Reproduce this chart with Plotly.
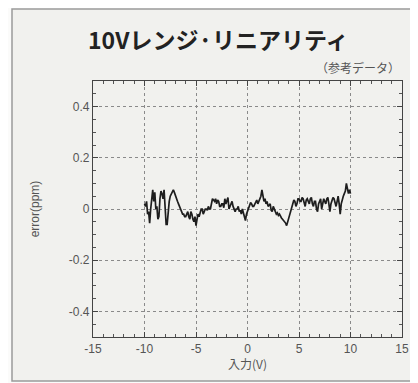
import plotly.graph_objects as go

x_volts = [round(-10 + 0.1 * i, 1) for i in range(201)]
error_ppm = [
    0.02, 0.01, 0.03, -0.02, -0.01, -0.055, 0.0, 0.05, 0.075, 0.03,
    0.065, 0.0, 0.01, -0.04, -0.03, 0.04, 0.07, 0.06, 0.04, 0.075,
    -0.01, -0.06, -0.06, 0.0, 0.03, 0.05, 0.06, 0.07, 0.075, 0.065,
    0.05, 0.04, 0.03, 0.02, 0.01, 0.0, -0.01, -0.02, -0.02, -0.03,
    -0.03, -0.02, -0.01, -0.03, -0.04, -0.01, -0.02, -0.04, -0.05, -0.03,
    -0.065, -0.04, -0.02, -0.03, -0.01, 0.0, 0.0, -0.02, -0.01, 0.0,
    0.0, -0.005, 0.01, 0.0, 0.0, 0.02, 0.04, 0.035, 0.03, 0.04,
    0.02, 0.035, 0.03, 0.01, 0.01, 0.02, 0.02, 0.005, 0.04, 0.02,
    0.03, 0.045, 0.0, 0.01, 0.02, 0.03, 0.01, 0.0, -0.01, 0.0,
    0.0, 0.01, -0.01, -0.005, -0.02, 0.0, -0.015, -0.02, -0.045, -0.02,
    -0.01, 0.0, 0.01, 0.025, 0.02, 0.01, 0.01, 0.02, 0.03, 0.035,
    0.02, 0.03, 0.04, 0.05, 0.075, 0.05, 0.03, 0.04, 0.02, 0.03,
    0.01, 0.015, 0.02, -0.005, -0.01, 0.01, 0.0, -0.01, -0.02, -0.015,
    -0.025, -0.02, -0.03, -0.035, -0.04, -0.045, -0.05, -0.055, -0.065, -0.05,
    -0.035, -0.02, -0.01, 0.01, 0.02, 0.035, 0.03, 0.01, 0.02, 0.04,
    0.04, 0.03, 0.03, 0.045, 0.04, 0.02, 0.01, 0.035, 0.04, 0.03,
    0.02, 0.04, 0.045, 0.02, 0.01, 0.03, 0.03, 0.0, -0.01, 0.02,
    0.035, 0.04, 0.0, 0.02, 0.04, 0.03, 0.02, 0.04, 0.045, 0.02,
    -0.01, 0.02, 0.03, 0.045, 0.04, 0.02, 0.01, 0.03, 0.05, 0.02,
    -0.02, 0.02, 0.04, 0.05, 0.06, 0.07, 0.1, 0.085, 0.06, 0.075,
    0.06,
]
x_ticks = [-15, -10, -5, 0, 5, 10, 15]
y_ticks = [-0.4, -0.2, 0, 0.2, 0.4]
y_tick_labels = ["-0.4", "-0.2", "0", "0.2", "0.4"]

title_text = "10Vレンジ·リニアリティ"
subtitle_text = "（参考データ）"
x_title = "入力(V)"
y_title = "error(ppm)"

fig = go.Figure()
fig.add_trace(go.Scatter(
    x=x_volts, y=error_ppm, mode="lines",
    line=dict(color="#1e1e1e", width=1.7),
    hoverinfo="skip",
))
# invisible trace to carry the mirrored (top/right) tick axes
fig.add_trace(go.Scatter(x=[x_ticks[0]], y=[y_ticks[0]], xaxis="x2", yaxis="y2",
                         mode="markers", marker=dict(opacity=0), hoverinfo="skip"))

tickfont = dict(family="Liberation Sans, Arial, sans-serif", size=12, color="#555555")

fig.update_layout(
    width=410, height=375,
    margin=dict(l=85, r=16, t=73, b=46),
    paper_bgcolor="#fbfbfa",
    plot_bgcolor="#f8f8f7",
    showlegend=False,
    xaxis=dict(
        range=[-15, 15], tickvals=x_ticks, ticktext=[str(v) for v in x_ticks],
        ticks="inside", ticklen=5, tickcolor="#444",
        showline=True, linecolor="#444", linewidth=1.2, mirror=True,
        showgrid=True, gridcolor="#8a8a8a", griddash="dot", gridwidth=1,
        zeroline=False, tickfont=tickfont, automargin=False,
        minor=dict(dtick=1, ticks="inside", ticklen=3, tickcolor="#555", showgrid=False),
        title=dict(text=x_title, font=dict(family="Noto Sans CJK JP", size=12, color="#555555"), standoff=2),
    ),
    yaxis=dict(
        range=[-0.5, 0.5], tickvals=y_ticks, ticktext=y_tick_labels,
        ticks="inside", ticklen=5, tickcolor="#444",
        showline=True, linecolor="#444", linewidth=1.2, mirror=True,
        showgrid=True, gridcolor="#8a8a8a", griddash="dot", gridwidth=1,
        zeroline=False, tickfont=tickfont, automargin=False,
        minor=dict(dtick=0.05, ticks="inside", ticklen=3, tickcolor="#555", showgrid=False),
        title=dict(text=y_title, font=dict(family="Liberation Sans, Arial, sans-serif", size=12, color="#555555"), standoff=26),
    ),
    xaxis2=dict(
        overlaying="x", side="top", range=[-15, 15], tickvals=x_ticks,
        showticklabels=False, ticks="inside", ticklen=5, tickcolor="#444",
        showgrid=False, zeroline=False, showline=False, automargin=False,
        minor=dict(dtick=1, ticks="inside", ticklen=3, tickcolor="#555", showgrid=False),
    ),
    yaxis2=dict(
        overlaying="y", side="right", range=[-0.5, 0.5], tickvals=y_ticks,
        showticklabels=False, ticks="inside", ticklen=5, tickcolor="#444",
        showgrid=False, zeroline=False, showline=False, automargin=False,
        minor=dict(dtick=0.05, ticks="inside", ticklen=3, tickcolor="#555", showgrid=False),
    ),
)

fig.add_shape(type="rect", xref="paper", yref="paper",
              x0=-81/309, x1=319/309, y0=-44/256, y1=328/256,
              line=dict(color="#9a9a9a", width=1.5), fillcolor="#f1f1ee", layer="below")

fig.add_annotation(text="<b>" + title_text + "</b>", xref="paper", yref="paper",
                   x=-7/309, y=(337-39)/256, xanchor="left", yanchor="middle", showarrow=False,
                   font=dict(family="Noto Sans CJK JP", size=23, color="#222222"))
fig.add_annotation(text=subtitle_text, xref="paper", yref="paper",
                   x=1.0, y=(337-67)/256, xanchor="right", yanchor="middle", showarrow=False,
                   font=dict(family="Noto Sans CJK JP", size=12, color="#555555"))

fig.write_html("out.html")
